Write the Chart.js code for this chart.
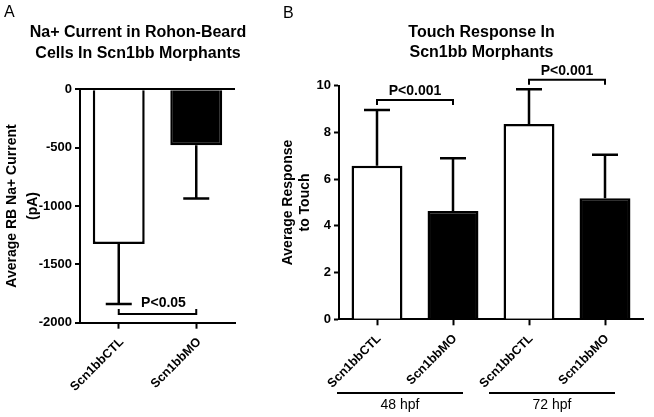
<!DOCTYPE html>
<html>
<head>
<meta charset="utf-8">
<script src="https://cdn.jsdelivr.net/npm/chart.js@4.4.1/dist/chart.umd.min.js"></script>
<style>
html, body { margin: 0; padding: 0; background: #fff; overflow: hidden; }
body { width: 654px; height: 417px; position: relative; }
#chartA { position: absolute; left: 0; top: 0; }
#chartB { position: absolute; left: 260px; top: 0; }
</style>
</head>
<body>
<canvas id="chartA" width="254" height="417"></canvas>
<canvas id="chartB" width="394" height="417"></canvas>
<script>
// panel A - Na+ current
var labelsA = ['Scn1bbCTL', 'Scn1bbMO'];
var meansA = [-1325, -480];
var errorsA = [515, 455];
var sigPairsA = [[0, 1]];
var sigLevelsA = [-1925];
var sigTextA = ['P<0.05'];

// panel B - touch response
var labelsB = ['Scn1bbCTL', 'Scn1bbMO', 'Scn1bbCTL', 'Scn1bbMO'];
var meansB = [6.57, 4.64, 8.36, 5.18];
var errorsB = [2.39, 2.25, 1.49, 1.86];
var sigPairsB = [[0, 1], [2, 3]];
var sigLevelsB = [9.39, 10.25];
var sigTextB = ['P<0.001', 'P<0.001'];
var groupsB = ['48 hpf', '72 hpf'];
var groupSpansB = [[0, 1], [2, 3]];

var FONT = "'Liberation Sans', Arial, Helvetica, sans-serif";
var fillsA = ['#ffffff', '#000000'];
var fillsB = ['#ffffff', '#000000', '#ffffff', '#000000'];

// error bars, p-value brackets, titles
function panelDecor(cfg) {
    return {
        id: 'decor' + cfg.letter,
        afterDatasetsDraw: function(chart) {
            var ctx = chart.ctx;
            var xs = chart.scales.x, ys = chart.scales.y;
            var bars = chart.getDatasetMeta(0).data;
            ctx.save();
            ctx.strokeStyle = '#000';
            ctx.fillStyle = '#000';
            ctx.lineWidth = 2.5;
            bars.forEach(function(bar, i) {
                var v = cfg.means[i];
                var tip = ys.getPixelForValue(v < 0 ? v - cfg.errors[i] : v + cfg.errors[i]);
                ctx.beginPath();
                ctx.moveTo(bar.x, bar.y);
                ctx.lineTo(bar.x, tip);
                ctx.moveTo(bar.x - 13, tip);
                ctx.lineTo(bar.x + 13, tip);
                ctx.stroke();
            });

            ctx.lineWidth = 2;
            ctx.font = 'bold 14px ' + FONT;
            ctx.textAlign = 'center';
            ctx.textBaseline = 'middle';
            cfg.sigPairs.forEach(function(pair, k) {
                var x1 = xs.getPixelForValue(pair[0]);
                var x2 = xs.getPixelForValue(pair[1]);
                var y = ys.getPixelForValue(cfg.sigLevels[k]);
                ctx.beginPath();
                ctx.moveTo(x1, y + cfg.hook);
                ctx.lineTo(x1, y);
                ctx.lineTo(x2, y);
                ctx.lineTo(x2, y + cfg.hook);
                ctx.stroke();
                ctx.fillText(cfg.sigText[k], (x1 + x2) / 2 + cfg.textShift, y + cfg.textRise);
            });
            ctx.restore();
        },
        afterDraw: function(chart) {
            var ctx = chart.ctx;
            var xs = chart.scales.x;
            ctx.save();
            ctx.fillStyle = '#000';
            ctx.strokeStyle = '#000';
            ctx.textBaseline = 'middle';

            ctx.textAlign = 'left';
            ctx.font = '16px ' + FONT;
            ctx.fillText(cfg.letter, cfg.letterX, cfg.letterY);

            ctx.textAlign = 'center';
            ctx.font = 'bold 16px ' + FONT;
            cfg.title.forEach(function(line, i) {
                ctx.fillText(line, cfg.titleX, cfg.titleY + i * 20.5);
            });

            if (cfg.groups) {
                ctx.font = '14px ' + FONT;
                ctx.lineWidth = 2;
                cfg.groups.forEach(function(name, g) {
                    var left = xs.getPixelForValue(cfg.groupSpans[g][0]) - 40;
                    var right = xs.getPixelForValue(cfg.groupSpans[g][1]) + 10;
                    ctx.beginPath();
                    ctx.moveTo(left, 393);
                    ctx.lineTo(right, 393);
                    ctx.stroke();
                    ctx.fillText(name, (left + right) / 2, 405);
                });
            }
            ctx.restore();
        }
    };
}

function xAxis(height, shift) {
    return {
        offset: true,
        grid: { offset: false, drawOnChartArea: false, drawTicks: true, tickLength: 6, tickColor: '#000', tickWidth: 2 },
        border: { display: true, color: '#000', width: 2 },
        ticks: {
            color: '#000', autoSkip: false, minRotation: 45, maxRotation: 45, padding: 6, labelOffset: shift,
            font: { family: FONT, size: 12.5, weight: 'bold' }
        },
        afterFit: function(s) { s.height = height; }
    };
}

var ctxA = document.getElementById('chartA').getContext('2d');
var chartA = new Chart(ctxA, {
    type: 'bar',
    data: {
        labels: labelsA,
        datasets: [{
            data: meansA,
            backgroundColor: fillsA,
            borderColor: '#000',
            borderWidth: 2.5,
            borderSkipped: 'start',
            barPercentage: 0.67,
            categoryPercentage: 1
        }]
    },
    options: {
        responsive: false,
        animation: false,
        layout: { padding: { top: 89.3, right: 19, bottom: 0, left: 0 } },
        plugins: { legend: { display: false }, tooltip: { enabled: false } },
        scales: {
            x: xAxis(94.3, 3),
            y: {
                min: -2000,
                max: 0,
                ticks: {
                    stepSize: 500, color: '#000', padding: 3,
                    font: { family: FONT, size: 13, weight: 'bold' },
                    callback: function(v) { return String(v); }
                },
                grid: {
                    drawOnChartArea: true,
                    color: function(c) { return c.tick && c.tick.value === 0 ? '#000' : 'rgba(0,0,0,0)'; },
                    lineWidth: 2, drawTicks: true, tickLength: 5, tickColor: '#000', tickWidth: 2
                },
                border: { display: true, color: '#000', width: 2 },
                title: {
                    display: true,
                    text: ['Average RB Na+ Current', '(pA)'],
                    color: '#000',
                    font: { family: FONT, size: 14, weight: 'bold', lineHeight: 1.45 },
                    padding: { top: 2.4, bottom: 0 }
                },
                afterFit: function(s) { s.width = 80; }
            }
        }
    },
    plugins: [panelDecor({
        letter: 'A', letterX: 4, letterY: 13,
        title: ['Na+ Current in Rohon-Beard', 'Cells In Scn1bb Morphants'],
        titleX: 138, titleY: 33,
        means: meansA, errors: errorsA,
        sigPairs: sigPairsA, sigLevels: sigLevelsA, sigText: sigTextA,
        hook: -5, textShift: 6, textRise: -11
    })]
});

var ctxB = document.getElementById('chartB').getContext('2d');
var chartB = new Chart(ctxB, {
    type: 'bar',
    data: {
        labels: labelsB,
        datasets: [{
            data: meansB,
            backgroundColor: fillsB,
            borderColor: '#000',
            borderWidth: 2.5,
            borderSkipped: 'start',
            barPercentage: 0.67,
            categoryPercentage: 1
        }]
    },
    options: {
        responsive: false,
        animation: false,
        layout: { padding: { top: 85.7, right: 11, bottom: 0, left: 0 } },
        plugins: { legend: { display: false }, tooltip: { enabled: false } },
        scales: {
            x: xAxis(97.7, 2),
            y: {
                min: 0,
                max: 10,
                ticks: {
                    stepSize: 2, color: '#000', padding: 3,
                    font: { family: FONT, size: 13, weight: 'bold' }
                },
                grid: { drawOnChartArea: false, drawTicks: true, tickLength: 5, tickColor: '#000', tickWidth: 2 },
                border: { display: true, color: '#000', width: 2 },
                title: {
                    display: true,
                    text: ['Average Response', 'to Touch'],
                    color: '#000',
                    font: { family: FONT, size: 14, weight: 'bold', lineHeight: 1.2 },
                    padding: { top: 19.6, bottom: 0 }
                },
                afterFit: function(s) { s.width = 79; }
            }
        }
    },
    plugins: [panelDecor({
        letter: 'B', letterX: 23, letterY: 14,
        title: ['Touch Response In', 'Scn1bb Morphants'],
        titleX: 221.5, titleY: 32.5,
        means: meansB, errors: errorsB,
        sigPairs: sigPairsB, sigLevels: sigLevelsB, sigText: sigTextB,
        groups: groupsB, groupSpans: groupSpansB,
        hook: 5, textShift: 0, textRise: -9
    })]
});
</script>
</body>
</html>
